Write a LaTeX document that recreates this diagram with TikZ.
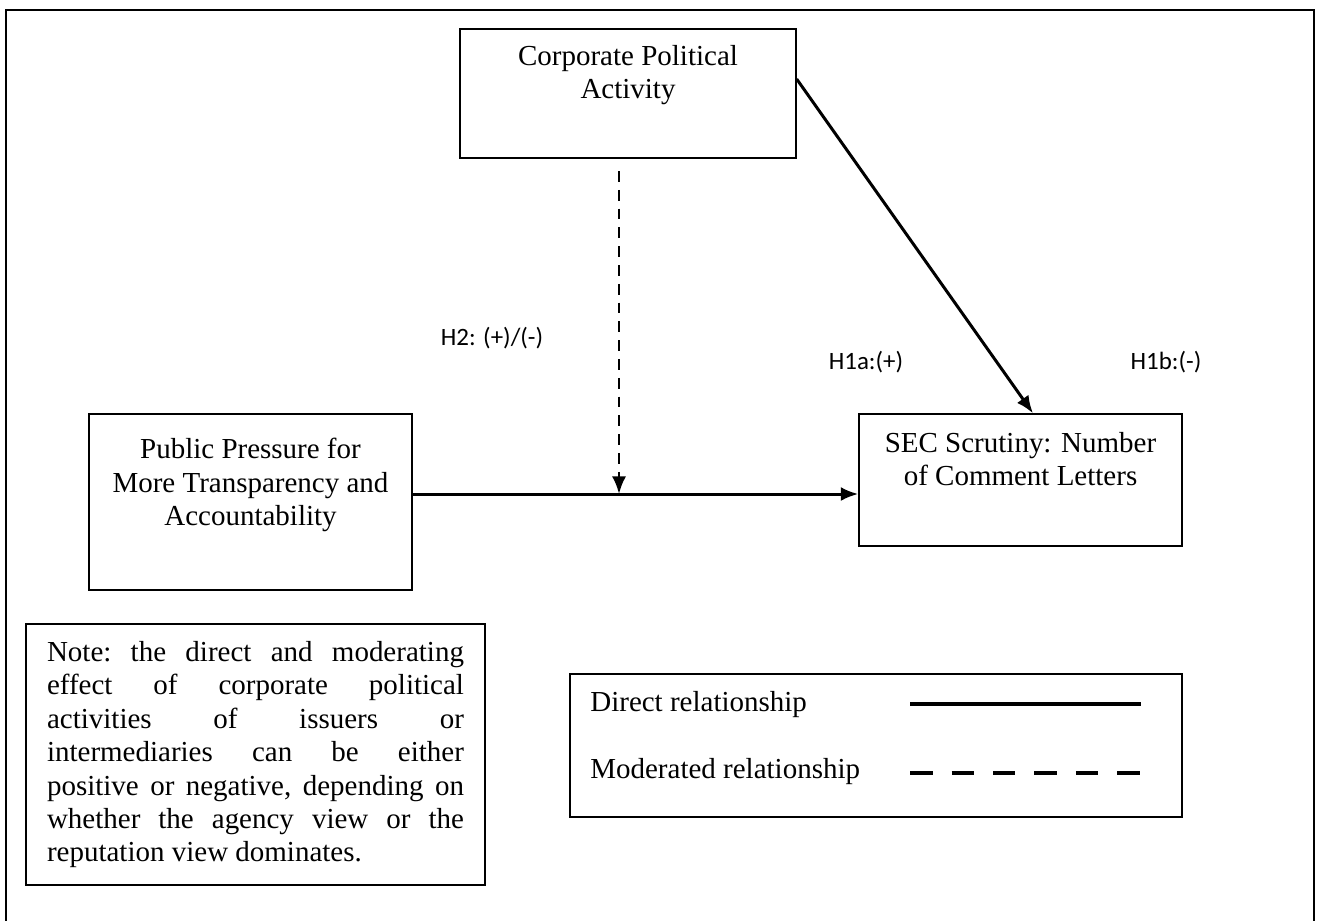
\documentclass[tikz,border=0pt]{standalone}
\usepackage{fontspec}
\setmainfont{Liberation Serif}
\newfontfamily\hypfont{Carlito}
\usetikzlibrary{arrows.meta,positioning}
\newcommand{\bodysize}{\fontsize{16.5}{19}\selectfont}

\begin{document}
\begin{tikzpicture}[
        x=0.02cm, y=-0.02cm,
        box/.style={draw, line width=0.8pt, inner sep=0pt},
        boxtext/.style={align=center, anchor=north, inner sep=0pt, font=\bodysize},
        hyp/.style={font=\hypfont\fontsize{14.2}{16}\selectfont, inner sep=0pt},
        direct/.style={->, line width=1.7pt},
        moderated/.style={->, line width=1.5pt, dash pattern=on 6.2pt off 4.5pt},
        >={Latex[length=10pt,width=8pt]}
    ]
        \useasboundingbox (0,0) rectangle (1317,920);
        % Outer frame, its bottom edge falls below the page
        \draw[line width=1.2pt] (6,10) rectangle (1314,930);

        % Construct boxes
        \node[box, minimum width=6.72cm, minimum height=2.58cm] (cpa) at (628,93.5) {};
        \node[box, minimum width=6.46cm, minimum height=3.52cm] (pp) at (250.5,502) {};
        \node[box, minimum width=6.46cm, minimum height=2.64cm] (sec) at (1020.5,480) {};
        \node[boxtext] (cpatext) at (628,45) {Corporate Political\\Activity};
        \node[boxtext] (pptext) at (250.5,438) {Public Pressure for\\More Transparency and\\Accountability};
        \node[boxtext] (sectext) at (1020.5,432) {SEC Scrutiny: Number\\of Comment Letters};

        % Hypothesis labels
        \node[hyp] (h2) at (492,338) {H2: (+)/(-)};
        \node[hyp] (h1a) at (866,362) {H1a:(+)};
        \node[hyp] (h1b) at (1166,362) {H1b:(-)};

        % Arrows
        \coordinate (junc) at (619,494);
        \coordinate (modtop) at (619,171);
        \draw[direct] ([yshift=0.29cm]cpa.east) -- ([xshift=0.25cm]sec.north);
        \draw[direct] (pp.east |- junc) -- (sec.west |- junc);
        \draw[moderated] (modtop) -- (junc);

        % Note
        \node[box, minimum width=9.18cm, minimum height=5.22cm] (note) at (255.5,754.5) {};
        \node[anchor=north, inner sep=0pt, text width=8.34cm, align=justify, font=\bodysize\frenchspacing] (notetext) at (255.5,641)
            {Note: the direct and moderating\linebreak effect of corporate political\linebreak activities of issuers or\linebreak intermediaries can be either\linebreak positive or negative, depending on\linebreak whether the agency view or the\linebreak reputation view dominates.};

        % Legend
        \node[box, minimum width=12.24cm, minimum height=2.86cm] (legend) at (876,745.5) {};
        \node[anchor=base west, inner sep=0pt, font=\bodysize] (dirtext) at (590,711) {Direct relationship};
        \node[anchor=base west, inner sep=0pt, font=\bodysize] (modtext) at (590,778) {Moderated relationship};
        \coordinate (dirA) at (910,704);
        \coordinate (dirB) at (1141,704);
        \coordinate (modA) at (910,773);
        \coordinate (modB) at (1141,773);
        \draw[line width=2.6pt] (dirA) -- (dirB);
        \draw[line width=2.6pt, dash pattern=on 0.45cm off 0.38cm] (modA) -- (modB);
    \end{tikzpicture}
\end{document}
